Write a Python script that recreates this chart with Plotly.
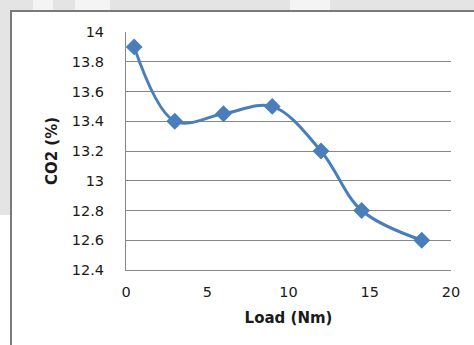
import plotly.graph_objects as go

load_nm = [0.5, 3, 6, 9, 12, 14.5, 18.2]
co2_pct = [13.9, 13.4, 13.45, 13.5, 13.2, 12.8, 12.6]

x_ticks = [0, 5, 10, 15, 20]
y_ticks = [12.4, 12.6, 12.8, 13, 13.2, 13.4, 13.6, 13.8, 14]
y_tick_text = ["12.4", "12.6", "12.8", "13", "13.2", "13.4", "13.6", "13.8", "14"]

blue = "#4a7ebb"
grid = "#878787"

fig = go.Figure()
fig.add_trace(go.Scatter(
    x=load_nm, y=co2_pct, mode="lines+markers",
    line=dict(color=blue, width=3, shape="spline", smoothing=1.0),
    marker=dict(symbol="diamond", size=13, color=blue),
    showlegend=False, cliponaxis=False,
))

W, H = 474, 345
L, R, T, B = 126, 23, 32, 75
PW, PH = W - L - R, H - T - B


def px(x):
    return (x - L) / PW


def py(y):
    return 1 - (y - T) / PH


shapes = []
# watermark-like background outside the frame
shapes.append(dict(type="rect", xref="paper", yref="paper",
                   x0=px(0), x1=px(W), y0=py(11), y1=py(0),
                   fillcolor="#e4e4e4", line=dict(width=0), layer="below"))
for a, b in [(33, 53), (75, 110), (290, 330)]:
    shapes.append(dict(type="rect", xref="paper", yref="paper",
                       x0=px(a), x1=px(b), y0=py(11), y1=py(0),
                       fillcolor="#f4f4f4", line=dict(width=0), layer="below"))
shapes.append(dict(type="rect", xref="paper", yref="paper",
                   x0=px(0), x1=px(10), y0=py(215), y1=py(0),
                   fillcolor="#e4e4e4", line=dict(width=0), layer="below"))
# outer chart frame (left and top edges)
shapes.append(dict(type="rect", xref="paper", yref="paper",
                   x0=px(11), x1=px(W + 5), y0=py(H + 5), y1=py(11),
                   fillcolor="rgba(0,0,0,0)",
                   line=dict(color="#7a7a7a", width=2)))

fig.update_layout(
    width=W, height=H,
    margin=dict(l=L, r=R, t=T, b=B),
    paper_bgcolor="white", plot_bgcolor="white",
    font=dict(family="DejaVu Sans, Verdana, sans-serif", size=14.5, color="#1a1a1a"),
    shapes=shapes,
    xaxis=dict(
        range=[0, 20], tickvals=x_ticks, showgrid=False, zeroline=False,
        showline=True, linecolor=grid, linewidth=1,
        ticks="outside", ticklen=9, tickcolor="white",
        title=dict(text="<b>Load (Nm)</b>", font=dict(size=15), standoff=13),
    ),
    yaxis=dict(
        range=[12.4, 14], tickvals=y_ticks, ticktext=y_tick_text,
        showgrid=True, gridcolor=grid, gridwidth=1, zeroline=False,
        showline=True, linecolor=grid, linewidth=1,
        ticks="outside", ticklen=18, tickcolor="white",
        title=dict(text="<b>CO2 (%)</b>", font=dict(size=15), standoff=10),
    ),
)

fig.write_html("out.html")
